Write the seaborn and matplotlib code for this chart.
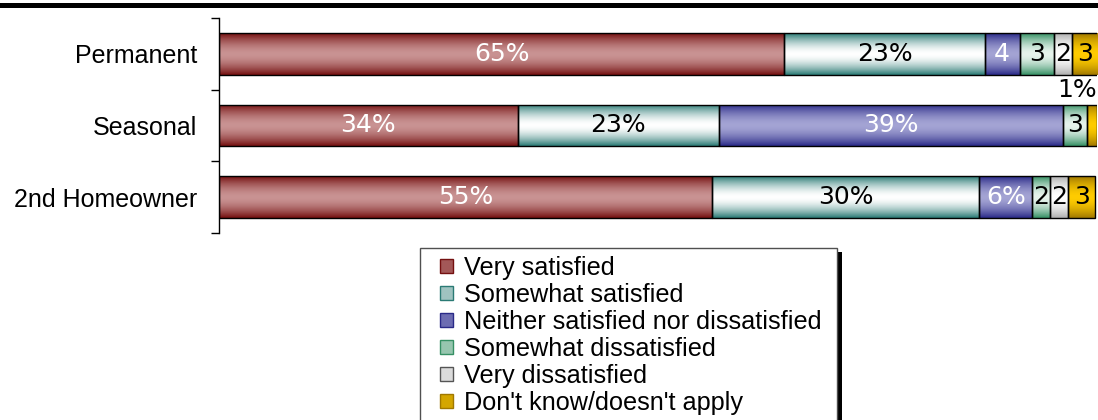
import numpy as np
import pandas as pd
import matplotlib
matplotlib.use('Agg')
import matplotlib.pyplot as plt
import seaborn as sns
from matplotlib.colors import LinearSegmentedColormap
from matplotlib.patches import Rectangle, Patch

groups = ['Permanent', 'Seasonal', '2nd Homeowner']
answers = ['Very satisfied', 'Somewhat satisfied', 'Neither satisfied nor dissatisfied',
           'Somewhat dissatisfied', 'Very dissatisfied', "Don't know/doesn't apply"]

# percent per answer, order = groups
very_sat = [64.4, 34.0, 56.1]
somewhat_sat = [22.8, 22.9, 30.5]
neither = [4.0, 39.2, 6.0]
somewhat_dis = [3.9, 2.8, 2.1]
very_dis = [2.0, 0.0, 2.0]
dont_know = [3.0, 1.1, 3.1]

# printed labels per group (one per answer)
lab_permanent = ['65%', '23%', '4', '3', '2', '3']
lab_seasonal = ['34%', '23%', '39%', '3', '', '1%']
lab_second = ['55%', '30%', '6%', '2', '2', '3']

series = [very_sat, somewhat_sat, neither, somewhat_dis, very_dis, dont_know]
labels = [lab_permanent, lab_seasonal, lab_second]

edges = ['#741010', '#2a7a74', '#2a2a88', '#369064', '#b0b0b0', '#a07800']
centers = ['#c99393', '#ffffff', '#a4a4d4', '#e6f3ec', '#ffffff', '#ffcc00']
txtcol = ['white', 'black', 'white', 'black', 'black', 'black']

sns.set_style('white')
plt.rcParams['font.family'] = ['Liberation Sans', 'DejaVu Sans']
plt.rcParams['text.color'] = 'black'

W, H = 1098, 420
fig = plt.figure(figsize=(W / 100, H / 100), dpi=100)
ax = fig.add_axes([219 / W, 1 - 233 / H, 878 / W, 215 / H])

df = pd.DataFrame({'group': groups})
left = np.zeros(len(groups))
for i, vals in enumerate(series):
    vals = np.array(vals)
    df['value'] = left + vals
    sns.barplot(data=df, x='value', y='group', orient='h', color=centers[i],
                width=0.58, saturation=1, errorbar=None, ax=ax,
                edgecolor='black', linewidth=1)
    for p, l, v in zip(ax.containers[-1], left, vals):
        p.set_x(l)
        p.set_width(v)
    left += vals

# vertical gradient fill inside each bar
grad = np.abs(np.linspace(-1, 1, 80)) ** 1.7
for i, cont in enumerate(ax.containers):
    cmap = LinearSegmentedColormap.from_list('g%d' % i, [centers[i], edges[i]])
    for p in cont:
        w = p.get_width()
        if w <= 0:
            p.set_visible(False)
            continue
        x0, y0, h = p.get_x(), p.get_y(), p.get_height()
        im = ax.imshow(grad[:, None], extent=[x0, x0 + w, y0 + h, y0], aspect='auto',
                       cmap=cmap, vmin=0, vmax=1, interpolation='bilinear', zorder=1)
        im.set_clip_path(p)
        p.set_facecolor('none')
        p.set_zorder(2)

# segment labels
for j in range(len(groups)):
    start = 0
    for i, vals in enumerate(series):
        v = vals[j]
        lab = labels[j][i]
        if lab:
            if v < 1.5:
                ax.text(100, j - 0.5, lab, ha='right', va='center', fontsize=18,
                        family='DejaVu Sans', color='black')
            else:
                ax.text(start + v / 2, j, lab, ha='center', va='center', fontsize=18,
                        family='DejaVu Sans', color=txtcol[i], zorder=3)
        start += v

ax.set_xlim(0, 100)
ax.set_ylim(2.5, -0.5)
ax.set_xlabel('')
ax.set_ylabel('')
ax.set_xticks([])
ax.set_yticks(range(len(groups)))
ax.set_yticklabels(groups, fontsize=18, color='black')
ax.tick_params(axis='y', which='major', length=0, pad=16, labelcolor='black')
ax.set_yticks([-0.5, 0.5, 1.5, 2.5], minor=True)
ax.tick_params(axis='y', which='minor', left=True, length=5.5, width=1, color='black',
               direction='out')
for s in ['top', 'right', 'bottom']:
    ax.spines[s].set_visible(False)
ax.spines['left'].set_color('black')
ax.spines['left'].set_linewidth(1)

# thick rule at the top
fig.add_artist(Rectangle((0, 1 - 8 / H), 1, 5 / H, transform=fig.transFigure,
                         facecolor='black', edgecolor='none'))

# legend box with shadow
fig.add_artist(Rectangle((837 / W, -0.05), 5 / W, (420 - 252) / H + 0.05,
                         transform=fig.transFigure, facecolor='black', edgecolor='none', zorder=1))
fig.add_artist(Rectangle((420 / W, -0.05), 417 / W, (420 - 248) / H + 0.05,
                         transform=fig.transFigure, facecolor='white', edgecolor='#505050',
                         lw=1, zorder=2))

mids = [LinearSegmentedColormap.from_list('m', [centers[i], edges[i]])(0.45) for i in range(6)]
handles = [Patch(facecolor=mids[i], edgecolor=edges[i] if i != 4 else '#555555', lw=1)
           for i in range(6)]
fig.legend(handles, answers, loc='upper left', bbox_to_anchor=(440 / W, 1 - 256 / H),
           frameon=False, borderpad=0, borderaxespad=0, handlelength=0.5, handleheight=0.5,
           handletextpad=0.45, labelspacing=0.12, labelcolor='black',
           prop={'family': 'Liberation Sans', 'size': 18.2})

fig.savefig('out.png', dpi=100)
